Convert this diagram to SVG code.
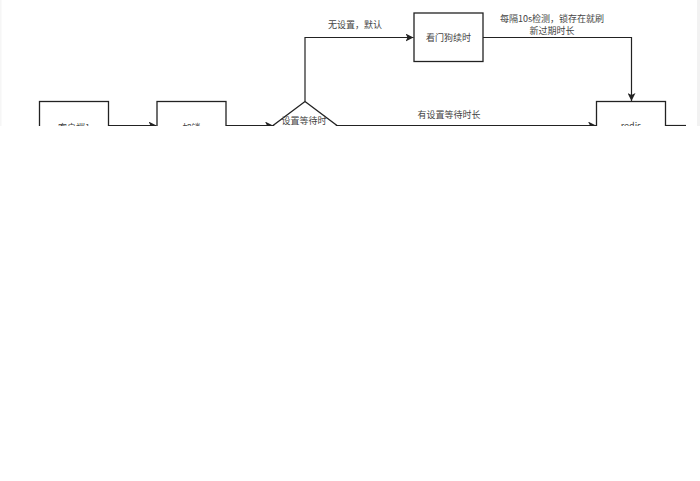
<svg xmlns="http://www.w3.org/2000/svg" width="700" height="481" viewBox="0 0 700 481">
<style>
.box{fill:#fff;stroke:#222;stroke-width:1.3}
.ln{fill:none;stroke:#222;stroke-width:1.2}
.t{font-family:"Noto Sans CJK SC","Liberation Sans",sans-serif;font-size:9px;fill:#444;text-anchor:middle}
</style>
<defs>
<marker id="arr" viewBox="0 0 10 10" refX="10" refY="5" markerWidth="8" markerHeight="8" markerUnits="userSpaceOnUse" orient="auto">
<path d="M0,0 L10,5 L0,10 L2.5,5 Z" fill="#222"/>
</marker>
<clipPath id="cut"><rect x="0" y="0" width="700" height="126"/></clipPath>
</defs>
<rect x="0" y="0" width="700" height="481" fill="#fff"/>
<rect x="697" y="0" width="3" height="126" fill="#f2f2f2"/>
<rect x="0" y="0" width="1.5" height="126" fill="#f6f6f6"/>
<g clip-path="url(#cut)">
<g id="connectors">
<path class="ln" d="M108.5,125.5 H156.5" marker-end="url(#arr)"/>
<path class="ln" d="M226,125.5 H273" marker-end="url(#arr)"/>
<path class="ln" d="M305,101.5 V37.5 H413.5" marker-end="url(#arr)"/>
<path class="ln" d="M483,37.5 H631.5 V101" marker-end="url(#arr)"/>
<path class="ln" d="M337,125.5 H596" marker-end="url(#arr)"/>
<path class="ln" d="M666,125.5 H686"/>
<text class="t" x="355" y="28">无设置，默认</text>
<text class="t" x="552" y="21.5">每隔10s检测，锁存在就刷</text>
<text class="t" x="552" y="33.5">新过期时长</text>
<text class="t" x="449" y="118">有设置等待时长</text>
</g>
<g id="client1">
<rect class="box" x="39.5" y="101.5" width="69" height="49"/>
<text class="t" x="74" y="131">客户端1</text>
</g>
<g id="lock">
<rect class="box" x="157" y="101.5" width="69" height="49"/>
<text class="t" x="191.5" y="131">加锁</text>
</g>
<g id="decision">
<path class="box" d="M305,101.5 L337,125.5 L305,149.5 L273,125.5 Z"/>
<text class="t" x="304" y="124">设置等待时</text>
</g>
<g id="watchdog">
<rect class="box" x="414" y="13" width="69" height="48.5"/>
<text class="t" x="448.5" y="40.5">看门狗续时</text>
</g>
<g id="redis">
<rect class="box" x="596.5" y="101.5" width="69" height="49"/>
<text class="t" x="631" y="129">redis</text>
</g>
</g>
</svg>
